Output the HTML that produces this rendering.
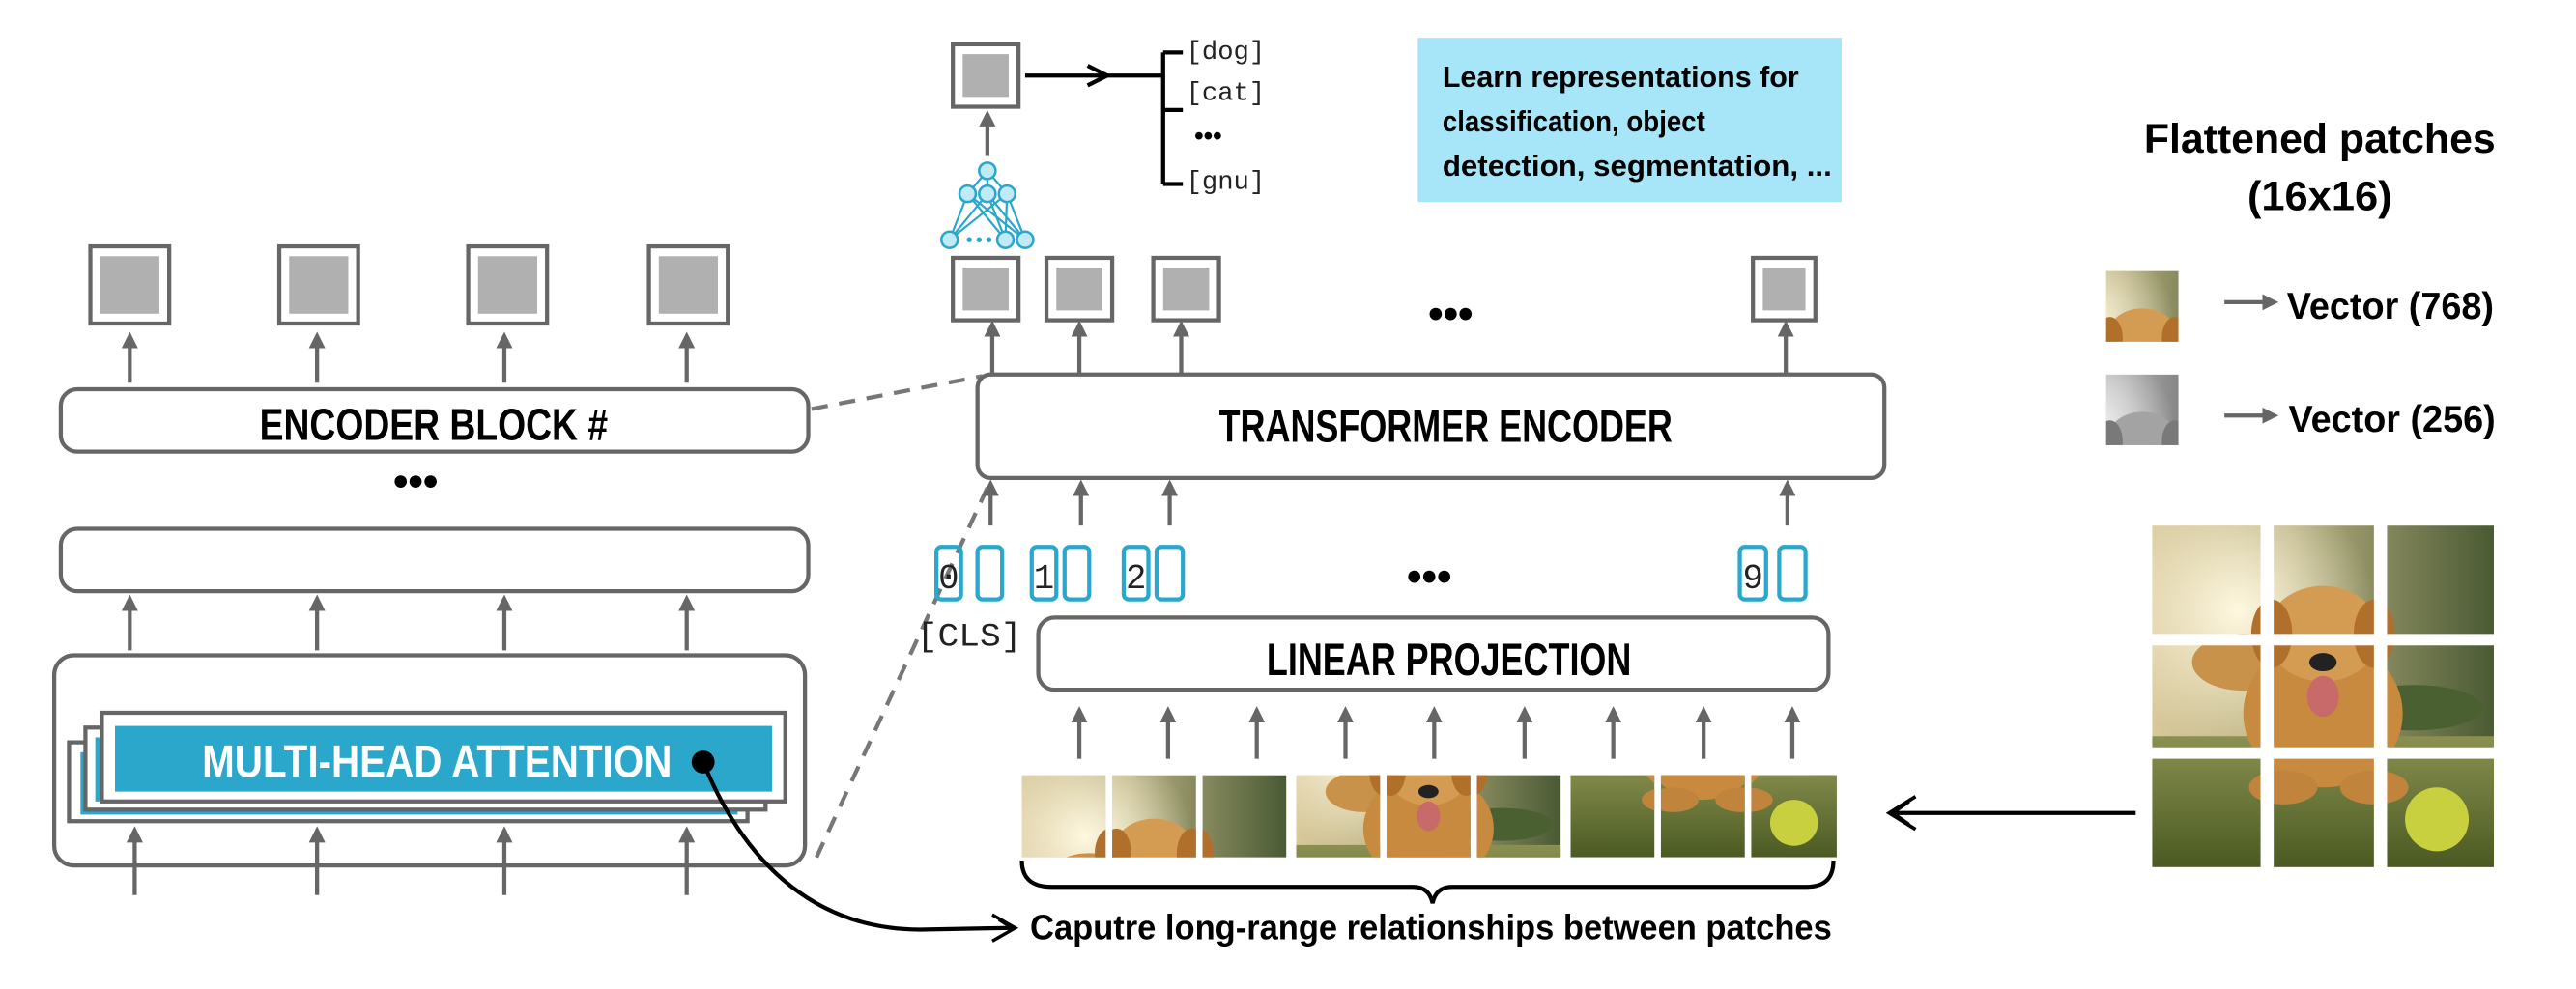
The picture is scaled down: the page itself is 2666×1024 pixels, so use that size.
<!DOCTYPE html>
<html><head><meta charset="utf-8"><style>
html,body{margin:0;padding:0;background:#fff;}
svg{display:block;}
.t{font-family:"Liberation Sans",sans-serif;font-weight:bold;fill:#000;}
.m{font-family:"Liberation Mono",monospace;fill:#222;}
</style></head><body>
<svg width="2666" height="1024" viewBox="0 0 1568 602.2" preserveAspectRatio="none" xmlns="http://www.w3.org/2000/svg">
<defs>
<marker id="ah" viewBox="0 0 10 10" refX="5" refY="5" markerWidth="4" markerHeight="4" orient="auto-start-reverse"><path d="M0,0 L10,5 L0,10 z" fill="#666"/></marker>
<linearGradient id="sky" x1="0" y1="0" x2="1" y2="0"><stop offset="0" stop-color="#d8c89a"/><stop offset="0.4" stop-color="#b8b080"/><stop offset="1" stop-color="#4a5a34"/></linearGradient>
<radialGradient id="sun" cx="0.25" cy="0.25" r="0.4"><stop offset="0" stop-color="#fff8e0"/><stop offset="1" stop-color="#fff8e0" stop-opacity="0"/></radialGradient>
<linearGradient id="grass" x1="0" y1="0" x2="0" y2="1"><stop offset="0" stop-color="#8a9050"/><stop offset="1" stop-color="#4a5a22"/></linearGradient>
<g id="dog">
<rect x="0" y="0" width="300" height="300" fill="url(#sky)"/>
<rect x="0" y="0" width="300" height="300" fill="url(#sun)"/>
<rect x="0" y="185" width="300" height="115" fill="url(#grass)"/>
<ellipse cx="230" cy="160" rx="60" ry="20" fill="#4a6030"/>
<ellipse cx="80" cy="120" rx="45" ry="25" fill="#c8924a"/>
<ellipse cx="150" cy="165" rx="70" ry="65" fill="#c88a3e"/>
<ellipse cx="150" cy="95" rx="50" ry="42" fill="#d49c52"/>
<ellipse cx="105" cy="95" rx="18" ry="30" fill="#b0702c"/>
<ellipse cx="195" cy="95" rx="18" ry="30" fill="#b0702c"/>
<ellipse cx="150" cy="120" rx="12" ry="8" fill="#222"/>
<ellipse cx="150" cy="150" rx="14" ry="18" fill="#c86a6a"/>
<ellipse cx="115" cy="230" rx="30" ry="15" fill="#c0843c"/>
<ellipse cx="195" cy="230" rx="30" ry="15" fill="#c0843c"/>
<circle cx="250" cy="258" r="28" fill="#c9d040"/>
</g>
</defs>

<!-- LEFT PANEL -->
<g fill="none" stroke="#666" stroke-width="2.5">
<rect x="55" y="150" width="48" height="47" fill="#fff"/>
<rect x="170" y="150" width="48" height="47" fill="#fff"/>
<rect x="285" y="150" width="48" height="47" fill="#fff"/>
<rect x="395" y="150" width="48" height="47" fill="#fff"/>
</g>
<g fill="#b0b0b0">
<rect x="61" y="156" width="36" height="35"/><rect x="176" y="156" width="36" height="35"/><rect x="291" y="156" width="36" height="35"/><rect x="401" y="156" width="36" height="35"/>
</g>
<g stroke="#666" stroke-width="2.5" marker-end="url(#ah)">
<line x1="79" y1="233" x2="79" y2="207"/><line x1="193" y1="233" x2="193" y2="207"/><line x1="307" y1="233" x2="307" y2="207"/><line x1="418" y1="233" x2="418" y2="207"/>
<line x1="79" y1="396" x2="79" y2="367"/><line x1="193" y1="396" x2="193" y2="367"/><line x1="307" y1="396" x2="307" y2="367"/><line x1="418" y1="396" x2="418" y2="367"/>
</g>
<rect x="37" y="237" width="455" height="38" rx="10" fill="#fff" stroke="#666" stroke-width="2.5"/>
<text class="t" x="264" y="268" font-size="27" text-anchor="middle" textLength="212" lengthAdjust="spacingAndGlyphs">ENCODER BLOCK #</text>
<text class="t" x="253" y="302" font-size="26" text-anchor="middle">•••</text>
<rect x="37" y="322" width="455" height="38" rx="10" fill="#fff" stroke="#666" stroke-width="2.5"/>
<rect x="33" y="399" width="457" height="128" rx="12" fill="#fff" stroke="#666" stroke-width="2.5"/>
<rect x="42" y="452" width="413" height="48" fill="#fff" stroke="#666" stroke-width="2.5"/>
<rect x="49" y="458" width="400" height="38" fill="#2aa7cb"/>
<rect x="52" y="443" width="414" height="50" fill="#fff" stroke="#666" stroke-width="2.5"/>
<rect x="58" y="449" width="400" height="39" fill="#2aa7cb"/>
<rect x="62" y="434" width="416" height="54" fill="#fff" stroke="#666" stroke-width="2.5"/>
<rect x="70" y="442" width="400" height="40" fill="#2aa7cb"/>
<text class="t" x="266" y="473" font-size="28" text-anchor="middle" textLength="286" lengthAdjust="spacingAndGlyphs" style="fill:#fff">MULTI-HEAD ATTENTION</text>
<g stroke="#666" stroke-width="2.5" marker-end="url(#ah)">
<line x1="82" y1="545" x2="82" y2="508"/><line x1="193" y1="545" x2="193" y2="508"/><line x1="307" y1="545" x2="307" y2="508"/><line x1="418" y1="545" x2="418" y2="508"/>
</g>
<circle cx="428" cy="464" r="7" fill="#000"/>
<path d="M428,464 C455,530 500,566 560,566 L616,565" fill="none" stroke="#000" stroke-width="2.5"/>
<path d="M604,557 L618,565 L604,573 M608,560 L616,565" fill="none" stroke="#000" stroke-width="2"/>

<!-- dashed connectors -->
<g stroke="#777" stroke-width="2.5" stroke-dasharray="10,7" fill="none">
<line x1="494" y1="249" x2="598" y2="229"/>
<line x1="497" y1="522" x2="601" y2="297"/>
</g>

<!-- MIDDLE -->
<rect x="580" y="27" width="40" height="38" fill="#fff" stroke="#666" stroke-width="2.5"/>
<rect x="586" y="33" width="28" height="26" fill="#b0b0b0"/>
<path d="M624,46 L708,46 M708,32 L708,112 M708,32 L720,32 M708,67 L720,67 M708,112 L720,112" stroke="#000" stroke-width="2.5" fill="none"/>
<path d="M662,40 L674,46 L662,52" stroke="#000" stroke-width="2.5" fill="none"/>
<text class="m" x="722" y="36" font-size="16">[dog]</text>
<text class="m" x="722" y="61" font-size="16">[cat]</text>
<text class="t" x="727" y="88" font-size="16">•••</text>
<text class="m" x="722" y="115" font-size="16">[gnu]</text>
<line x1="601" y1="95" x2="601" y2="72" stroke="#666" stroke-width="2.5" marker-end="url(#ah)"/>
<g stroke="#2aa7cb" stroke-width="1.3" fill="none">
<path d="M601,104 L589,118 M601,104 L601,118 M601,104 L613,118 M589,118 L578,146 M589,118 L612,146 M589,118 L624,146 M601,118 L578,146 M601,118 L612,146 M601,118 L624,146 M613,118 L578,146 M613,118 L612,146 M613,118 L624,146"/>
</g>
<g fill="#bfeaf6" stroke="#2aa7cb" stroke-width="1.5">
<circle cx="601" cy="104" r="5"/><circle cx="589" cy="118" r="5"/><circle cx="601" cy="118" r="5"/><circle cx="613" cy="118" r="5"/>
<circle cx="578" cy="146" r="5"/><circle cx="612" cy="146" r="5"/><circle cx="624" cy="146" r="5"/>
</g>
<g fill="#2aa7cb"><circle cx="590" cy="146" r="1.6"/><circle cx="596" cy="146" r="1.6"/><circle cx="602" cy="146" r="1.6"/></g>

<rect x="863" y="23" width="258" height="100" fill="#a6e6f8"/>
<text class="t" x="878" y="53" font-size="18" textLength="217" lengthAdjust="spacingAndGlyphs">Learn representations for</text>
<text class="t" x="878" y="80" font-size="18" textLength="160" lengthAdjust="spacingAndGlyphs">classification, object</text>
<text class="t" x="878" y="107" font-size="18" textLength="237" lengthAdjust="spacingAndGlyphs">detection, segmentation, ...</text>

<g fill="#fff" stroke="#666" stroke-width="2.5">
<rect x="580" y="157" width="40" height="38"/><rect x="637" y="157" width="40" height="38"/><rect x="702" y="157" width="40" height="38"/><rect x="1067" y="157" width="38" height="38"/>
</g>
<g fill="#b0b0b0">
<rect x="586" y="163" width="28" height="26"/><rect x="643" y="163" width="28" height="26"/><rect x="708" y="163" width="28" height="26"/><rect x="1073" y="163" width="26" height="26"/>
</g>
<text class="t" x="883" y="200" font-size="26" text-anchor="middle">•••</text>
<g stroke="#666" stroke-width="2.5" marker-end="url(#ah)">
<line x1="604" y1="228" x2="604" y2="200"/><line x1="657" y1="228" x2="657" y2="200"/><line x1="719" y1="228" x2="719" y2="200"/><line x1="1087" y1="228" x2="1087" y2="200"/>
<line x1="603" y1="320" x2="603" y2="297"/><line x1="658" y1="320" x2="658" y2="297"/><line x1="712" y1="320" x2="712" y2="297"/><line x1="1088" y1="320" x2="1088" y2="297"/>
</g>
<rect x="595" y="228" width="552" height="63" rx="8" fill="#fff" stroke="#666" stroke-width="2.5"/>
<text class="t" x="880" y="269" font-size="28" text-anchor="middle" textLength="276" lengthAdjust="spacingAndGlyphs">TRANSFORMER ENCODER</text>

<g fill="none" stroke="#2aa7cb" stroke-width="2.5">
<rect x="570" y="333" width="15" height="32" rx="3"/><rect x="595" y="333" width="15" height="32" rx="3"/>
<rect x="628" y="333" width="15" height="32" rx="3"/><rect x="648" y="333" width="15" height="32" rx="3"/>
<rect x="684" y="333" width="15" height="32" rx="3"/><rect x="704" y="333" width="16" height="32" rx="3"/>
<rect x="1059" y="333" width="16" height="32" rx="3"/><rect x="1083" y="333" width="16" height="32" rx="3"/>
</g>
<text class="m" x="577.5" y="358" font-size="21" text-anchor="middle">0</text>
<text class="m" x="635.5" y="358" font-size="21" text-anchor="middle">1</text>
<text class="m" x="691.5" y="358" font-size="21" text-anchor="middle">2</text>
<text class="m" x="1067" y="358" font-size="21" text-anchor="middle">9</text>
<text class="t" x="870" y="360" font-size="26" text-anchor="middle">•••</text>
<text class="m" x="558" y="393" font-size="20" textLength="64" lengthAdjust="spacingAndGlyphs">[CLS]</text>
<rect x="632" y="376" width="481" height="44" rx="10" fill="#fff" stroke="#666" stroke-width="2.5"/>
<text class="t" x="882" y="411" font-size="28" text-anchor="middle" textLength="222" lengthAdjust="spacingAndGlyphs">LINEAR PROJECTION</text>
<g stroke="#666" stroke-width="2.5" marker-end="url(#ah)">
<line x1="657" y1="462" x2="657" y2="435"/><line x1="711" y1="462" x2="711" y2="435"/><line x1="765" y1="462" x2="765" y2="435"/><line x1="819" y1="462" x2="819" y2="435"/><line x1="873" y1="462" x2="873" y2="435"/><line x1="928" y1="462" x2="928" y2="435"/><line x1="982" y1="462" x2="982" y2="435"/><line x1="1037" y1="462" x2="1037" y2="435"/><line x1="1091" y1="462" x2="1091" y2="435"/>
</g>
<!-- patches row -->
<svg x="622" y="472" width="51" height="50" viewBox="0 0 100 100" preserveAspectRatio="none"><use href="#dog"/></svg>
<svg x="677" y="472" width="51" height="50" viewBox="100 0 100 100" preserveAspectRatio="none"><use href="#dog"/></svg>
<svg x="732" y="472" width="51" height="50" viewBox="200 0 100 100" preserveAspectRatio="none"><use href="#dog"/></svg>
<svg x="789" y="472" width="51" height="50" viewBox="0 100 100 100" preserveAspectRatio="none"><use href="#dog"/></svg>
<svg x="844" y="472" width="51" height="50" viewBox="100 100 100 100" preserveAspectRatio="none"><use href="#dog"/></svg>
<svg x="899" y="472" width="51" height="50" viewBox="200 100 100 100" preserveAspectRatio="none"><use href="#dog"/></svg>
<svg x="956" y="472" width="51" height="50" viewBox="0 200 100 100" preserveAspectRatio="none"><use href="#dog"/></svg>
<svg x="1011" y="472" width="51" height="50" viewBox="100 200 100 100" preserveAspectRatio="none"><use href="#dog"/></svg>
<svg x="1066" y="472" width="52" height="50" viewBox="200 200 100 100" preserveAspectRatio="none"><use href="#dog"/></svg>
<path d="M622,524 Q622,540 640,540 L860,540 Q870,540 872,550 Q874,540 884,540 L1100,540 Q1116,540 1116,524" fill="none" stroke="#000" stroke-width="2.5"/>
<text class="t" x="627" y="572" font-size="21" textLength="488" lengthAdjust="spacingAndGlyphs">Caputre long-range relationships between patches</text>

<!-- RIGHT -->
<text class="t" x="1412" y="93" font-size="25" text-anchor="middle" textLength="214" lengthAdjust="spacingAndGlyphs">Flattened patches</text>
<text class="t" x="1412" y="128" font-size="25" text-anchor="middle" textLength="88" lengthAdjust="spacingAndGlyphs">(16x16)</text>
<svg x="1282" y="165" width="44" height="43" viewBox="100 0 100 100" preserveAspectRatio="none"><use href="#dog"/></svg>
<svg x="1282" y="228" width="44" height="43" viewBox="100 0 100 100" preserveAspectRatio="none" style="filter:grayscale(1)"><use href="#dog"/></svg>
<g stroke="#666" stroke-width="2.5" marker-end="url(#ah)">
<line x1="1354" y1="184" x2="1382" y2="184"/><line x1="1354" y1="253" x2="1382" y2="253"/>
</g>
<text class="t" x="1392" y="194" font-size="23" textLength="126" lengthAdjust="spacingAndGlyphs">Vector (768)</text>
<text class="t" x="1393" y="263" font-size="23" textLength="126" lengthAdjust="spacingAndGlyphs">Vector (256)</text>
<svg x="1310" y="320" width="208" height="208" viewBox="0 0 300 300" preserveAspectRatio="none"><use href="#dog"/></svg>
<g fill="#fff">
<rect x="1376" y="318" width="8" height="212"/><rect x="1445" y="318" width="8" height="212"/>
<rect x="1308" y="386" width="212" height="7"/><rect x="1308" y="455" width="212" height="7"/>
</g>
<line x1="1300" y1="495" x2="1152" y2="495" stroke="#000" stroke-width="2.5"/>
<path d="M1166,485 L1150,495 L1166,505 M1162,488 L1152,495 L1162,502" fill="none" stroke="#000" stroke-width="2.2"/>
</svg>
</body></html>
